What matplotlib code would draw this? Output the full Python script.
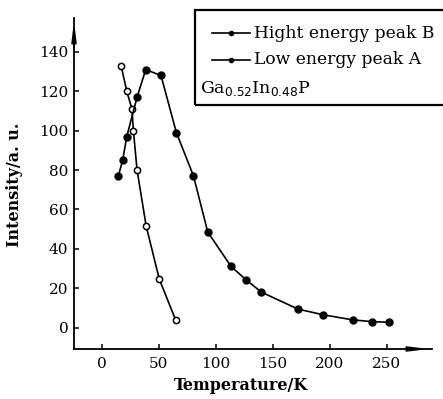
import matplotlib
matplotlib.use('Agg')
import matplotlib.pyplot as plt
from matplotlib.lines import Line2D
from matplotlib.patches import Rectangle

# Hight energy peak B (hollow markers)
temp_b = [17, 22, 26.5, 27.8, 31, 39, 50.5, 65]
inten_b = [133, 120, 111, 100, 80, 51.5, 24.6, 3.6]

# Low energy peak A (filled markers)
temp_a = [14.6, 18.4, 22, 31, 38.6, 52, 65.5, 80.5, 93, 113.5, 126.5, 140,
          172, 194, 220, 237, 252]
inten_a = [77, 85, 97, 117, 131, 128, 99, 77, 48.5, 31, 24.3, 18,
           9.4, 6.5, 3.9, 3, 2.7]

x_ticks = [0, 50, 100, 150, 200, 250]
y_ticks = [0, 20, 40, 60, 80, 100, 120, 140]

plt.rcParams['font.family'] = 'DejaVu Serif'
plt.rcParams['font.size'] = 11

W, H = 443, 399
fig = plt.figure(figsize=(W / 100, H / 100), dpi=100)
ax = fig.add_axes([74 / W, 1 - 349 / H, (432 - 74) / W, (349 - 18) / H])

ax.plot(temp_b, inten_b, color='black', lw=1.2, marker='o', ms=4.5,
        mfc='white', mec='black', mew=1.1, clip_on=False)
ax.plot(temp_a, inten_a, color='black', lw=1.2, marker='o', ms=5,
        mfc='black', mec='black', clip_on=False)

ax.set_xlim(-24.3, 289.7)
ax.set_ylim(-10.9, 157.2)
ax.set_xticks(x_ticks)
ax.set_yticks(y_ticks)
ax.tick_params(direction='in', length=3.5, width=1.1)
ax.tick_params(axis='x', pad=6)
ax.tick_params(axis='y', pad=4)

for s in ['top', 'right']:
    ax.spines[s].set_visible(False)
for s in ['left', 'bottom']:
    ax.spines[s].set_linewidth(1.3)

# arrow heads on the axes
ax.annotate('', xy=(0, 1.0), xytext=(0, 0.9), xycoords='axes fraction',
            arrowprops=dict(arrowstyle='-|>,head_length=1.0,head_width=0.12',
                            color='black', lw=1.3))
ax.annotate('', xy=(1.0, 0), xytext=(0.92, 0), xycoords='axes fraction',
            arrowprops=dict(arrowstyle='-|>,head_length=1.0,head_width=0.12',
                            color='black', lw=1.3))

ax.set_xlabel('Temperature/K', fontsize=11.5, fontweight='bold')
ax.xaxis.set_label_coords((241.5 - 74) / 358, -0.085)
ax.xaxis.label.set_va('top')
ax.set_ylabel('Intensity/a. u.', fontsize=11.5, fontweight='bold')
ax.yaxis.set_label_coords((23 - 74) / 358, (349 - 184.5) / 331)

# legend box
fig.add_artist(Rectangle((195 / W, 1 - 105 / H), 0.7, 95 / H, transform=fig.transFigure,
                         fill=False, ec='black', lw=1.6, clip_on=False))
for yy, lab in [(33, 'Hight energy peak B'), (60, 'Low energy peak A')]:
    fy = 1 - yy / H
    fig.add_artist(Line2D([212 / W, 250 / W], [fy, fy], transform=fig.transFigure,
                          color='black', lw=1.2))
    fig.add_artist(Line2D([231 / W], [fy], transform=fig.transFigure, marker='o',
                          ms=3, color='black'))
    fig.text(254 / W, fy, lab, fontsize=12.3, va='center', ha='left')
fig.text(200 / W, 1 - 88 / H, r'Ga$_{0.52}$In$_{0.48}$P', fontsize=12.5,
         va='center', ha='left')

fig.savefig('out.png', dpi=100, facecolor='white')
